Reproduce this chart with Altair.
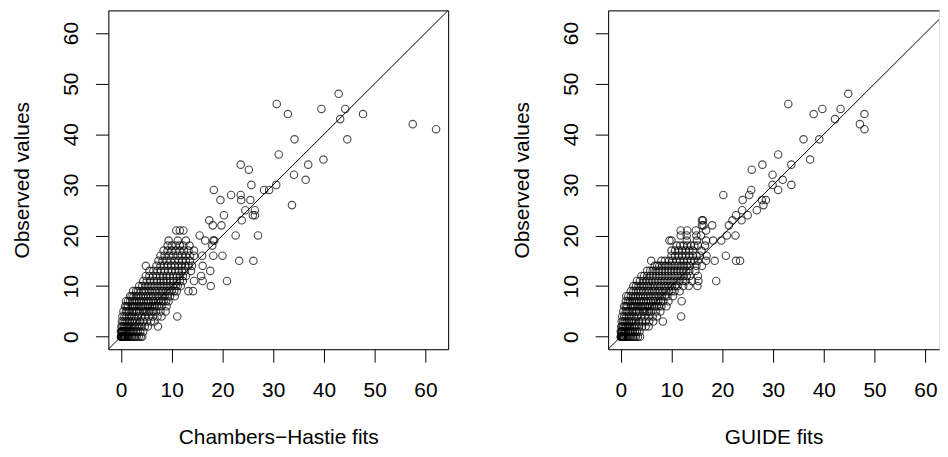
import altair as alt
import pandas as pd

# ---------------- data ----------------
# Observed values are integer counts; fitted values are read per observed level.
obs_levels = [0, 1, 2, 3, 4, 5, 6, 7, 8, 9, 10, 11, 12, 13, 14, 15, 16, 17, 18, 19, 20, 21, 22, 23]

ch_fits_by_level = [
    [0.0, 0.05, 0.1, 0.15, 0.2, 0.3, 0.4, 0.5, 0.6, 0.7, 0.8, 0.9, 1.0, 1.2, 1.4, 1.6, 1.9, 2.2, 2.5, 2.8, 3.1, 3.5, 3.9, 4.2],
    [0.0, 0.1, 0.2, 0.3, 0.4, 0.6, 0.8, 1.0, 1.2, 1.5, 1.8, 2.1, 2.5, 2.9, 3.3, 3.8, 4.4],
    [0.1, 0.3, 0.6, 0.9, 1.2, 1.5, 1.9, 2.3, 2.7, 3.1, 3.6, 4.1, 4.7, 5.3, 7.3],
    [0.2, 0.5, 0.9, 1.3, 1.7, 2.2, 2.7, 3.2, 3.8, 4.4, 5.1, 5.9, 6.6],
    [0.3, 0.7, 1.1, 1.6, 2.1, 2.7, 3.3, 4.0, 4.7, 5.5, 6.3, 7.2, 8.0, 11.1],
    [0.5, 1.0, 1.3, 1.6, 2.2, 2.5, 2.9, 3.2, 3.6, 4.4, 4.8, 5.2, 5.6, 6.0, 6.4, 6.9, 7.8, 8.8],
    [0.8, 1.1, 1.4, 2.1, 2.4, 2.8, 3.2, 3.6, 4.0, 4.4, 4.8, 5.3, 5.7, 6.2, 6.6, 7.1, 7.5, 8.0, 9.0],
    [1.0, 1.4, 1.8, 2.2, 2.7, 3.1, 3.6, 4.0, 4.5, 5.0, 5.4, 5.9, 6.4, 6.9, 7.4, 7.9, 8.4, 8.9, 9.4],
    [1.8, 2.1, 2.5, 3.0, 3.4, 3.9, 4.4, 4.9, 5.4, 5.9, 6.4, 7.0, 7.5, 8.1, 8.6, 9.2, 9.7, 10.6],
    [2.4, 3.0, 3.4, 4.0, 4.5, 5.0, 5.6, 6.1, 6.7, 7.2, 7.8, 8.3, 8.9, 9.4, 10.0, 10.5, 11.0, 13.3, 14.2],
    [3.6, 4.2, 4.8, 5.4, 6.0, 6.6, 7.2, 7.8, 8.4, 9.0, 9.6, 10.2, 10.8, 11.2, 11.8, 17.7],
    [4.4, 5.1, 5.8, 6.5, 7.1, 7.8, 8.4, 9.0, 9.7, 10.3, 11.0, 11.6, 12.2, 14.4, 16.1, 20.9],
    [4.9, 5.6, 6.3, 7.0, 7.7, 8.3, 9.0, 9.6, 10.3, 11.0, 11.6, 12.2, 12.8, 15.8],
    [5.6, 6.4, 7.2, 7.9, 8.6, 9.3, 10.0, 10.7, 11.4, 12.0, 12.6, 13.8, 17.6],
    [4.9, 7.0, 7.8, 8.5, 9.2, 9.9, 10.6, 11.3, 12.0, 12.7, 13.3, 14.0, 16.1],
    [7.4, 8.2, 9.0, 9.8, 10.6, 11.4, 12.1, 12.8, 13.6, 23.3, 26.1],
    [7.8, 8.6, 9.5, 10.3, 11.2, 12.0, 12.8, 13.6, 14.4, 16.0, 18.2, 20.0],
    [8.4, 9.2, 10.0, 10.8, 11.6, 12.4, 13.3, 14.4],
    [9.2, 10.0, 10.8, 11.6, 12.3, 13.5, 18.0],
    [9.4, 11.2, 12.8, 16.6, 18.2, 18.4],
    [15.5, 22.6, 27.0],
    [10.9, 11.6, 12.3],
    [18.1, 19.8],
    [17.4, 23.8],
]
ch_out_fit = [30.7, 32.9, 42.9, 39.5, 44.2, 43.2, 47.7, 57.5, 62.1, 34.2, 44.6, 31.1, 39.9,
              36.9, 34.1, 36.4, 23.6, 25.2, 25.7, 30.6, 28.2, 29.2, 33.7, 18.3, 21.7, 23.6,
              23.7, 25.5, 19.6, 24.5, 26.4, 26.0, 26.4, 20.3]
ch_out_obs = [46, 44, 48, 45, 45, 43, 44, 42, 41, 39, 39, 36, 35,
              34, 32, 31, 34, 33, 30, 30, 29, 29, 26, 29, 28, 28,
              27, 27, 27, 25, 25, 24, 24, 24]

gd_fits_by_level = [
    [0.0, 0.05, 0.1, 0.15, 0.2, 0.3, 0.4, 0.5, 0.6, 0.7, 0.9, 1.1, 1.3, 1.5, 1.8, 2.1, 2.4, 2.7, 3.0, 3.4, 3.8],
    [0.0, 0.1, 0.2, 0.3, 0.5, 0.7, 0.9, 1.1, 1.4, 1.7, 2.0, 2.4, 2.8, 3.2, 3.7],
    [0.1, 0.3, 0.5, 0.8, 1.1, 1.4, 1.8, 2.2, 2.6, 3.1, 3.6, 4.2, 4.9, 5.5],
    [0.2, 0.5, 0.8, 1.2, 1.6, 2.0, 2.5, 3.0, 3.6, 4.2, 4.9, 5.6, 6.4, 8.3],
    [0.3, 0.7, 1.1, 1.6, 2.1, 2.7, 3.3, 4.0, 4.7, 5.5, 6.3, 7.1, 11.9],
    [0.5, 1.0, 1.3, 1.6, 2.2, 2.5, 2.9, 3.2, 3.6, 4.4, 4.8, 5.2, 5.6, 6.0, 6.9, 7.8],
    [0.7, 1.0, 1.3, 2.0, 2.4, 2.8, 3.2, 3.6, 4.0, 4.4, 4.8, 5.3, 5.7, 6.2, 6.6, 7.1, 7.5, 8.0, 9.0],
    [1.0, 1.4, 1.8, 2.2, 2.7, 3.1, 3.6, 4.0, 4.5, 5.0, 5.4, 5.9, 6.4, 6.9, 7.4, 7.9, 8.4, 9.4, 12.0],
    [1.1, 1.5, 2.0, 2.4, 2.9, 3.4, 3.9, 4.4, 4.9, 5.4, 5.9, 6.5, 7.0, 7.6, 8.1, 8.7, 9.2, 10.3],
    [2.0, 2.5, 3.0, 3.5, 4.0, 4.5, 5.1, 5.6, 6.2, 6.7, 7.3, 7.8, 8.4, 8.9, 9.5, 10.0, 10.6, 11.6],
    [2.5, 3.0, 3.5, 4.1, 4.6, 5.2, 5.7, 6.3, 6.8, 7.4, 7.9, 8.5, 9.0, 9.6, 10.1, 10.7, 11.2, 12.3, 13.4, 15.1],
    [3.2, 3.8, 4.4, 5.0, 5.6, 6.2, 6.8, 7.4, 8.0, 8.6, 9.2, 9.8, 10.4, 11.0, 11.6, 12.2, 12.8, 14.0, 15.3, 18.8],
    [4.1, 4.6, 5.2, 5.8, 6.4, 7.0, 7.6, 8.2, 8.8, 9.4, 10.0, 10.6, 11.2, 11.8, 12.4, 13.0, 13.6, 15.2],
    [5.2, 5.8, 6.3, 6.9, 7.5, 8.1, 8.7, 9.3, 9.9, 10.5, 11.1, 11.7, 12.3, 12.9, 13.5, 14.7],
    [6.7, 7.2, 7.6, 8.2, 8.8, 9.4, 10.0, 10.6, 11.2, 11.8, 12.4, 13.0, 13.6, 14.9, 16.0],
    [6.0, 8.0, 8.7, 9.5, 10.2, 11.0, 11.7, 12.4, 13.1, 13.8, 14.5, 15.2, 16.8, 18.5, 22.7, 23.5],
    [10.0, 10.7, 11.4, 12.1, 12.8, 13.5, 14.2, 14.9, 15.6, 16.9, 20.7],
    [10.0, 10.7, 11.4, 12.1, 12.8, 13.5, 14.2, 15.9],
    [11.0, 11.7, 12.4, 13.1, 13.8, 14.5, 15.2, 16.6],
    [9.6, 10.0, 13.0, 15.0, 16.8, 18.2, 19.8],
    [11.8, 13.0, 14.9, 15.8, 20.9, 22.6],
    [11.8, 13.1, 14.8, 16.8],
    [16.0, 16.3, 18.0, 21.3],
    [16.0, 16.2, 22.0, 23.8],
]
gd_out_fit = [33.0, 44.8, 39.7, 43.3, 38.0, 42.2, 48.0, 47.1, 48.0, 36.0, 39.1, 37.3, 31.0,
              33.6, 27.9, 25.8, 29.9, 31.9, 29.9, 31.0, 33.6, 20.2, 25.7, 25.3, 24.0, 27.8,
              28.6, 28.1, 26.8, 23.9, 22.7, 25.0]
gd_out_obs = [46, 48, 45, 45, 44, 43, 44, 42, 41, 39, 39, 35, 36,
              34, 34, 33, 32, 31, 30, 29, 30, 28, 29, 28, 27, 27,
              27, 26, 25, 25, 24, 24]

tick_values = [0, 10, 20, 30, 40, 50, 60]
axis_lo, axis_hi = -2.48, 64.48      # R's 4% extended range of 0..62
right_panel_hi = 62.68               # right panel is cut off by the picture edge

FONT = "Liberation Sans"
FS = 21
PLOT_H = 341


def build(levels, rows, out_fit, out_obs):
    fit, obs = [], []
    for lv, row in zip(levels, rows):
        for f in row:
            fit.append(f)
            obs.append(lv)
    fit += out_fit
    obs += out_obs
    return pd.DataFrame({"fit": fit, "obs": obs})


ch_df = build(obs_levels, ch_fits_by_level, ch_out_fit, ch_out_obs)
gd_df = build(obs_levels, gd_fits_by_level, gd_out_fit, gd_out_obs)
anchor_df = pd.DataFrame({"v": [30.0]})

common_axis = dict(
    values=tick_values, grid=False, tickSize=13, tickColor="black", tickWidth=1,
    domainColor="black", domainWidth=1, labelColor="black", titleColor="black",
    labelFont=FONT, titleFont=FONT, labelFontSize=FS, titleFontSize=FS,
    titleFontWeight="normal", labelFlush=False, labelOverlap=False, format="d",
)

frame_axis = dict(labels=False, ticks=False, title=None, grid=False,
                  domainColor="black", domainWidth=1, minExtent=0, maxExtent=0,
                  labelPadding=0, titlePadding=0, tickSize=0, offset=0)


def panel(df, xtitle, xmax, width, full_box):
    xs = alt.Scale(domain=[axis_lo, xmax], nice=False, zero=False)
    ys = alt.Scale(domain=[axis_lo, axis_hi], nice=False, zero=False)
    # identity line y = x over this panel's visible x range
    line_df = pd.DataFrame({"v": [axis_lo, xmax]})
    xaxis = alt.Axis(title=xtitle, labelPadding=18, titleY=78, titleBaseline="top",
                     titleAlign="center", **common_axis)
    yaxis = alt.Axis(title="Observed values", labelAngle=270, labelAlign="center",
                     labelBaseline="alphabetic", labelPadding=18,
                     titleAngle=270, titleAlign="center", titleBaseline="alphabetic",
                     titleX=-80.3, titleY=PLOT_H / 2, **common_axis)
    pts = alt.Chart(df).mark_point(
        shape="circle", filled=False, color="black", size=56, strokeWidth=1.15, clip=True
    ).encode(
        x=alt.X("fit:Q", scale=xs, axis=xaxis),
        y=alt.Y("obs:Q", scale=ys, axis=yaxis),
    )
    line = alt.Chart(line_df).mark_line(color="black", strokeWidth=1, clip=True).encode(
        x=alt.X("v:Q", scale=xs, axis=None),
        y=alt.Y("v:Q", scale=ys, axis=None),
    )
    top = alt.Chart(anchor_df).mark_point(opacity=0, size=1, clip=True).encode(
        x=alt.X("v:Q", scale=xs, axis=alt.Axis(orient="top", **frame_axis)),
        y=alt.Y("v:Q", scale=ys, axis=None),
    )
    layers = [pts, line, top]
    if full_box:
        right = alt.Chart(anchor_df).mark_point(opacity=0, size=1, clip=True).encode(
            x=alt.X("v:Q", scale=xs, axis=None),
            y=alt.Y("v:Q", scale=ys, axis=alt.Axis(orient="right", **frame_axis)),
        )
        layers.append(right)
    return alt.layer(*layers).resolve_axis(x="independent", y="independent").properties(
        width=width, height=PLOT_H
    )


left = panel(ch_df, "Chambers\u2212Hastie fits", axis_hi, 342, True)
right = panel(gd_df, "GUIDE fits", right_panel_hi, 333, False)

chart = alt.hconcat(left, right, spacing=62).properties(
    padding={"left": 3, "top": 0, "right": 0, "bottom": 0}
).configure_view(stroke=None).configure(background="white")

chart.save("out.html", embed_options={"renderer": "svg", "actions": False})
